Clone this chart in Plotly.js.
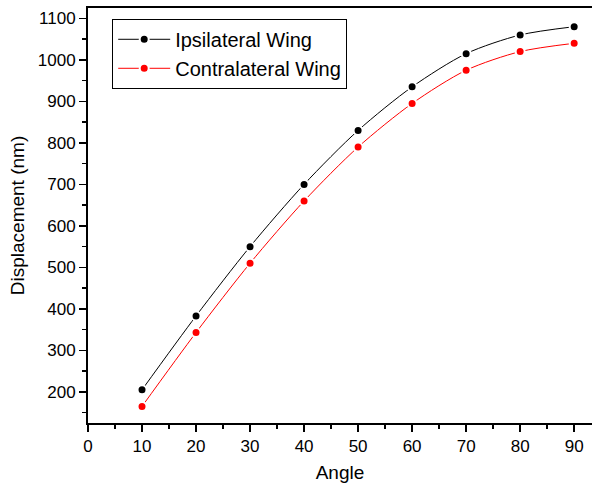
<!DOCTYPE html>
<html>
<head>
<meta charset="utf-8">
<script src="https://cdn.plot.ly/plotly-3.0.1.min.js"></script>
<style>html,body{margin:0;padding:0;background:#fff;}#chart{width:592px;height:483px;}</style>
</head>
<body>
<div id="chart"></div>
<script>
const angles = [10, 20, 30, 40, 50, 60, 70, 80, 90];
const ipsilateral = [205, 383, 550, 700, 830, 935, 1015, 1060, 1080];
const contralateral = [165, 343, 510, 660, 790, 895, 975, 1020, 1040];
const seriesNames = ["Ipsilateral Wing", "Contralateral Wing"];

const font = "Arial, 'Liberation Sans', sans-serif";
const traces = [
  {x: angles, y: ipsilateral, name: seriesNames[0], type: "scatter", mode: "lines+markers",
   line: {color: "#000", width: 1, shape: "spline", smoothing: 0.8},
   marker: {color: "#000", size: 9, line: {color: "#fff", width: 2}}},
  {x: angles, y: contralateral, name: seriesNames[1], type: "scatter", mode: "lines+markers",
   line: {color: "#ff0000", width: 1, shape: "spline", smoothing: 0.8},
   marker: {color: "#ff0000", size: 9, line: {color: "#fff", width: 2}}}
];
const axisCommon = {
  showline: true, linecolor: "#000", linewidth: 2, mirror: true,
  ticks: "outside", ticklen: 7, tickwidth: 1.5, tickcolor: "#000",
  showgrid: false, zeroline: false,
  tickfont: {family: font, size: 17, color: "#000"}
};
const layout = {
  width: 592, height: 483,
  margin: {l: 88, r: 0, t: 8, b: 60},
  paper_bgcolor: "#fff", plot_bgcolor: "#fff",
  font: {family: font, color: "#000"},
  showlegend: true,
  legend: {x: 0.048, y: 0.974, xanchor: "left", yanchor: "top",
    bgcolor: "#fff", bordercolor: "#000", borderwidth: 1,
    font: {family: font, size: 20, color: "#000"}, tracegroupgap: 0, itemwidth: 52},
  xaxis: Object.assign({}, axisCommon, {
    range: [0, 93.3], tickmode: "linear", tick0: 0, dtick: 10,
    minor: {ticks: "outside", ticklen: 4, tickwidth: 1.5, tickcolor: "#000", dtick: 5, tick0: 0},
    title: {text: "Angle", font: {family: font, size: 19, color: "#000"}, standoff: 10}
  }),
  yaxis: Object.assign({}, axisCommon, {
    range: [125, 1125], tickmode: "linear", tick0: 200, dtick: 100,
    minor: {ticks: "outside", ticklen: 4, tickwidth: 1.5, tickcolor: "#000", dtick: 50, tick0: 150},
    title: {text: "Displacement (nm)", font: {family: font, size: 19, color: "#000"}, standoff: 8}
  })
};
Plotly.newPlot("chart", traces, layout, {displayModeBar: false, staticPlot: true});
</script>
</body>
</html>
